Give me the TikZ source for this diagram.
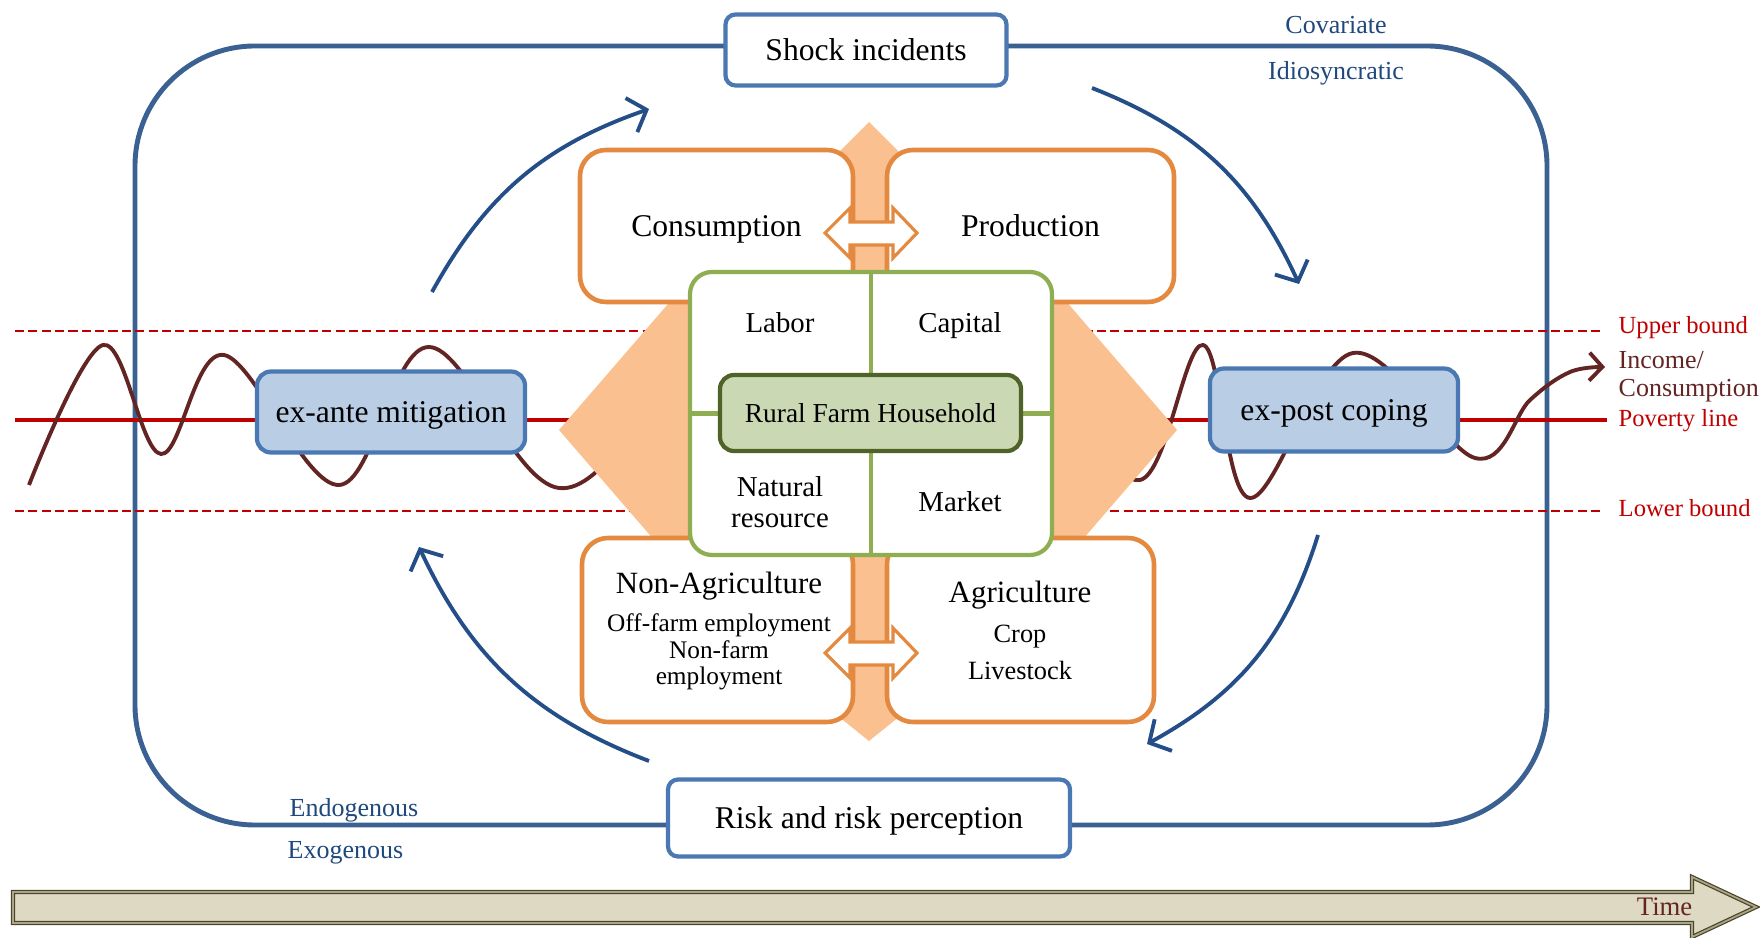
\documentclass[tikz,border=0pt]{standalone}
\usepackage{fontspec}
\setmainfont{Liberation Serif}
\usepackage{tikz}
\usetikzlibrary{arrows.meta,positioning}

\definecolor{frameblue}{RGB}{59,96,146}
\definecolor{boxblue}{RGB}{74,120,178}
\definecolor{lightblue}{RGB}{185,205,229}
\definecolor{arcblue}{RGB}{36,78,135}
\definecolor{textblue}{RGB}{31,73,125}
\definecolor{orangeline}{RGB}{228,138,64}
\definecolor{orangefill}{RGB}{250,192,144}
\definecolor{greenline}{RGB}{143,174,82}
\definecolor{greenfill}{RGB}{202,217,179}
\definecolor{darkgreen}{RGB}{79,98,40}
\definecolor{povred}{RGB}{192,0,0}
\definecolor{wavebrown}{RGB}{99,37,35}
\definecolor{timefill}{RGB}{221,217,195}
\definecolor{timeline}{RGB}{74,69,42}
\definecolor{timeedge}{RGB}{170,164,136}

\tikzset{
  outerframe/.style={draw=frameblue, line width=1.4pt, rounded corners=12mm},
  event/.style={draw=boxblue, line width=1.2pt, fill=white, rounded corners=1mm, inner sep=0pt, text depth=0pt, font=\fontsize{9}{11}\selectfont},
  strategy/.style={event, fill=lightblue, rounded corners=1.4mm},
  sector/.style={draw=orangeline, line width=1.3pt, fill=white, rounded corners=2.6mm, inner sep=0pt, text depth=0pt, font=\fontsize{9}{11}\selectfont},
  sectortitle/.style={inner sep=0pt, text depth=0pt, font=\fontsize{8.8}{10}\selectfont},
  sublabel/.style={inner sep=0pt, align=center, font=\fontsize{7.2}{7.5}\selectfont},
  swaparrow/.style={draw=orangeline, line width=0.9pt, fill=white, line join=miter},
  asset/.style={draw=greenline, line width=1.2pt, fill=white, rounded corners=2.2mm, inner sep=0pt},
  core/.style={draw=darkgreen, line width=1.2pt, fill=greenfill, rounded corners=1.4mm, inner sep=0pt, font=\fontsize{7.8}{9}\selectfont},
  assetlabel/.style={inner sep=0pt, align=center, text depth=0pt, font=\fontsize{8.2}{8.6}\selectfont},
  cyclearrow/.style={draw=arcblue, line width=1.1pt, -{Straight Barb[length=1.6mm, width=3.6mm]}},
  bound/.style={draw=povred, line width=0.85pt, dash pattern=on 2.6pt off 1.2pt},
  poverty/.style={draw=povred, line width=1.2pt},
  wave/.style={draw=wavebrown, line width=1.1pt, -{Straight Barb[length=1.3mm, width=2.8mm]}},
  shocktype/.style={text=textblue, inner sep=0pt, text depth=0pt, font=\fontsize{7.4}{9}\selectfont},
  levellabel/.style={text=povred, inner sep=0pt, anchor=west, text depth=0pt, font=\fontsize{7}{8.4}\selectfont},
  timearrow/.style={draw=timeline, line width=0.35pt, double=timeedge, double distance=0.5pt, fill=timefill},
}

\begin{document}
\begin{tikzpicture}[x=0.1mm, y=-0.1mm]
\useasboundingbox (0,0) rectangle (1760,938);

\draw[outerframe] (135,46) rectangle (1547,825);

% levels
\draw[bound] (15,331) -- (1602,331);
\draw[bound] (15,511) -- (1602,511);
\draw[poverty] (15,420) -- (1607,420);

\draw[wave] plot[smooth, tension=0.6] coordinates {(29,485) (103,345) (161,454) (224,355) (339,485) (429,347) (559,488) (700,380) (870,430) (1040,380) (1140,480) (1203,345) (1250,498) (1353,353) (1475,458) (1530,400) (1570,372) (1605,367)};

% orange background
\fill[orangefill] (559,430) -- (700,267) -- (700,593) -- cycle;
\fill[orangefill] (1177,430) -- (1040,271) -- (1040,589) -- cycle;
\fill[orangefill] (869,122) -- (912,165) -- (887,165) -- (887,700) -- (920,700) -- (869,741) -- (818,700) -- (851,700) -- (851,165) -- (826,165) -- cycle;

\node[sector, minimum width=27.3mm, minimum height=15.2mm] (consumption) at (716.5,226) {Consumption}; %
\node[sector, minimum width=28.7mm, minimum height=15.2mm] (production) at (1030.5,226) {Production}; %
\node[sector, minimum width=27.1mm, minimum height=18.4mm] (nonagri) at (717.5,630) {}; %
\node[sector, minimum width=26.7mm, minimum height=18.4mm] (agri) at (1020.5,630) {}; %

\node[sectortitle] (nonagrititle) at (719,583) {Non-Agriculture};
\node[sublabel] (nonagrijobs) at (719,652) {Off-farm employment\\Non-farm\\employment};
\node[sectortitle] (agrititle) at (1020,592) {Agriculture};
\node[sublabel, font=\fontsize{7.5}{10.5}\selectfont] (agrijobs) at (1020,652) {Crop\\Livestock};

\foreach \ay in {233,653}
  \draw[swaparrow] (825,\ay) -- ++(25,-25) -- ++(0,14) -- ++(43,0) -- ++(0,-14) -- ++(24,25) -- ++(-24,25) -- ++(0,-13) -- ++(-43,0) -- ++(0,13) -- cycle;

% household assets
\node[asset, minimum width=36.2mm, minimum height=28.3mm] (assets) at (871,413.5) {}; %
\draw[greenline, line width=1.2pt] (assets.north) -- (assets.south) (assets.west) -- (assets.east);
\node[core, minimum width=30.1mm, minimum height=7.6mm] (household) at (870.5,413) {Rural Farm Household}; %
\node[assetlabel] (labor) at (780,323) {Labor};
\node[assetlabel] (capital) at (960,323) {Capital};
\node[assetlabel] (natural) at (780,502) {Natural\\resource};
\node[assetlabel] (market) at (960,502) {Market};

% risk cycle
\node[event, minimum width=28.1mm, minimum height=7.1mm] (shock) at (866,50) {Shock incidents}; %
\node[event, minimum width=40.2mm, minimum height=7.7mm] (risk) at (869,818) {Risk and risk perception}; %
\node[strategy, minimum width=26.8mm, minimum height=8.1mm] (exante) at (391,412) {ex-ante mitigation}; %
\node[strategy, minimum width=24.8mm, minimum height=8.3mm] (expost) at (1334,410) {ex-post coping}; %

\coordinate (antestart) at (432,292);
\coordinate (shockend) at (649,109);
\coordinate (shockstart) at (1092,88);
\coordinate (postend) at (1299,284);
\coordinate (poststart) at (1318,535);
\coordinate (riskend) at (1147,744);
\coordinate (riskstart) at (649,761);
\coordinate (anteend) at (419,547);
\draw[cyclearrow] (antestart) to[bend left=21] (shockend);
\draw[cyclearrow] (shockstart) to[bend left=22] (postend);
\draw[cyclearrow] (poststart) to[bend left=22] (riskend);
\draw[cyclearrow] (riskstart) to[bend left=22] (anteend);

\node[shocktype] (covariate) at (1336,25) {Covariate};
\node[shocktype] (idiosyncratic) at (1336,70) {Idiosyncratic};
\node[shocktype, anchor=west] (endogenous) at (289,807) {Endogenous};
\node[shocktype, anchor=west] (exogenous) at (287,850) {Exogenous};

\node[levellabel] (upper) at (1618,325) {Upper bound};
\node[levellabel, text=wavebrown, align=left, font=\fontsize{7.4}{8}\selectfont] (income) at (1618,374) {Income/\\Consumption};
\node[levellabel] (povline) at (1618,418) {Poverty line};
\node[levellabel] (lower) at (1618,508) {Lower bound};

% time axis
\draw[timearrow] (13,892) -- (1692,892) -- (1692,877) -- (1756,907) -- (1692,937) -- (1692,923) -- (13,923) -- cycle;
\node[inner sep=0pt, anchor=east, text=wavebrown, text depth=0pt, font=\fontsize{7.6}{9}\selectfont] (time) at (1693,907) {Time};

\end{tikzpicture}
\end{document}
